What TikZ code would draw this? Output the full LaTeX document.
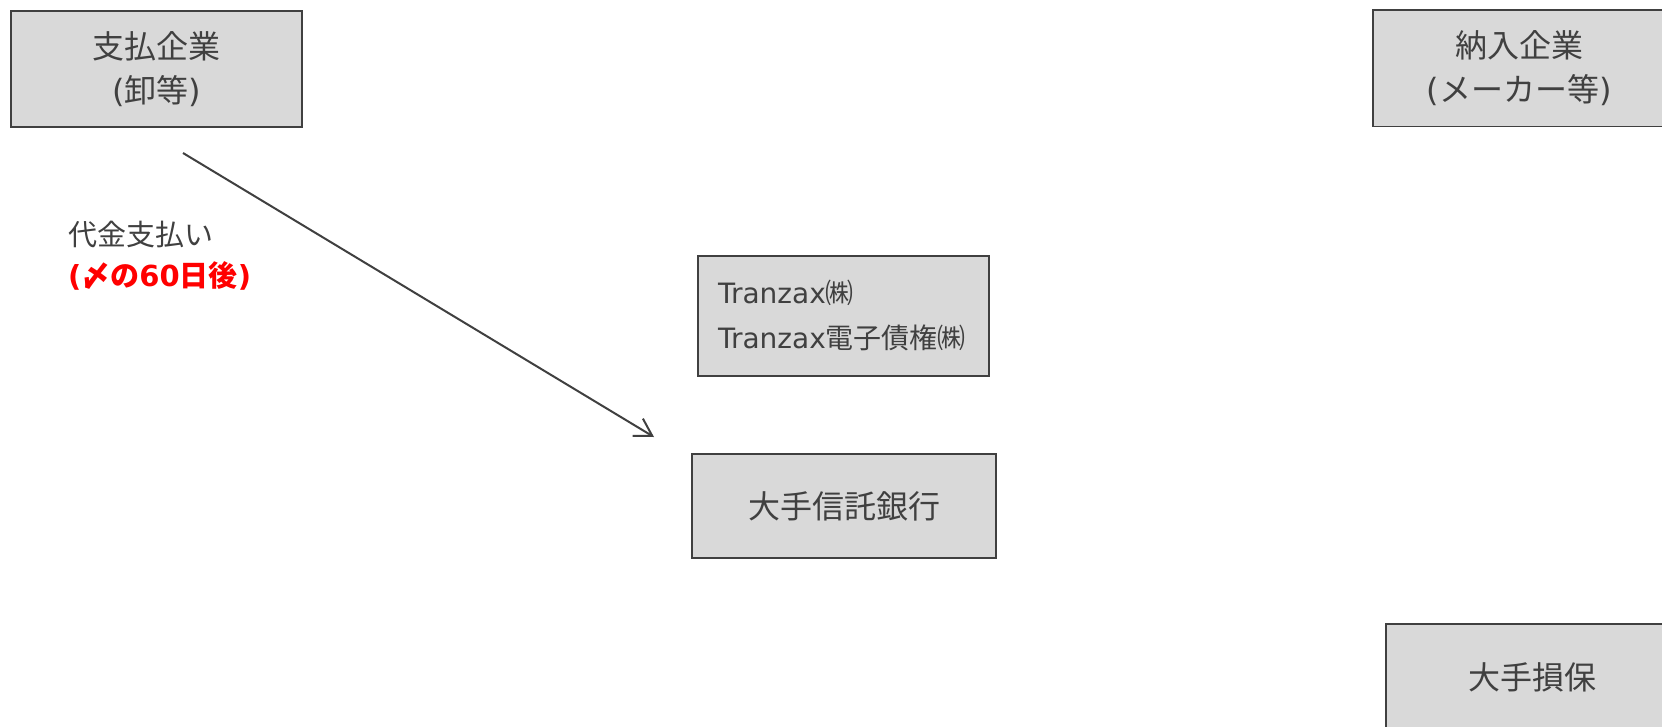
\documentclass[tikz,border=0pt]{standalone}
\usepackage{fontspec}
\setmainfont{Noto Sans CJK JP}
\newfontfamily\lat{DejaVu Sans}
\usetikzlibrary{arrows.meta}
\definecolor{boxgray}{HTML}{D9D9D9}
\definecolor{edgegray}{HTML}{404040}
\definecolor{textgray}{HTML}{404040}
\definecolor{labelred}{HTML}{FF0000}
\begin{document}
\begin{tikzpicture}[x=1pt,y=-1pt,
  box/.style={draw=edgegray, line width=1.5pt, fill=boxgray, text=textgray, inner sep=0pt, align=center},
  bigtext/.style={font=\fontsize{32}{44}\selectfont},
  midtext/.style={font=\fontsize{28}{45}\selectfont},
  flowline/.style={draw=edgegray, line width=2pt, -{Straight Barb[length=17pt,width=20pt]}},
  lbltext/.style={anchor=west, inner sep=0pt, font=\fontsize{29}{40}\selectfont}]
\useasboundingbox (0,0) rectangle (1662,726);
\node[box, bigtext, minimum width=291pt, minimum height=116pt] (payer) at (156.5,69) {支払企業\\{\lat(}卸等{\lat)}};
\node[box, bigtext, minimum width=292pt, minimum height=116.5pt] (supplier) at (1519,68) {納入企業\\{\lat(}メーカー等{\lat)}};
\node[box, midtext, align=left, text width=251pt, minimum width=291pt, minimum height=120pt, inner xsep=20pt] (tranzax) at (843.5,316) {{\lat Tranzax}㈱\\{\lat Tranzax}電子債権㈱};
\node[box, bigtext, minimum width=304pt, minimum height=104pt] (bank) at (844,506) {大手信託銀行};
\node[box, bigtext, minimum width=293pt, minimum height=107pt] (insurer) at (1532.5,677.5) {大手損保};
\coordinate (pstart) at (183,153);
\coordinate (pend) at (654,437);
\draw[flowline] (pstart) -- (pend);
\node[lbltext, text=textgray] (lbl) at (68,235) {代金支払い};
\node[lbltext, text=labelred, font=\bfseries\fontsize{29}{40}\selectfont] (lblred) at (68,276) {{\lat\bfseries (}〆の{\lat\bfseries 60}日後{\lat\bfseries )}};
\end{tikzpicture}
\end{document}
